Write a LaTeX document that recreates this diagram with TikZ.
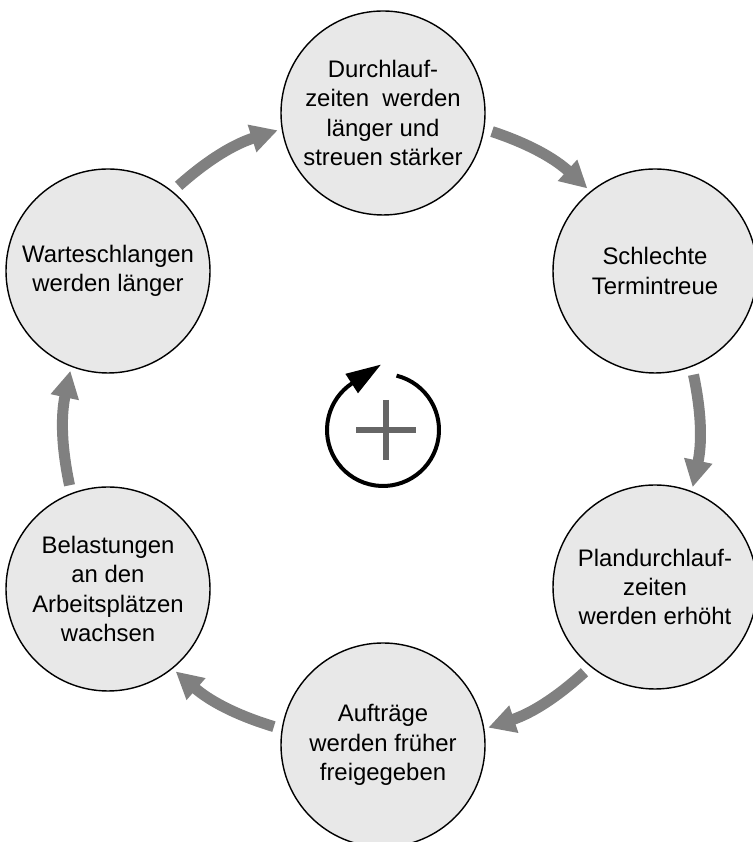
\documentclass[tikz,border=0pt]{standalone}
\usepackage{fontspec}
\setmainfont{Liberation Sans}
\usepackage{tikz}
\usetikzlibrary{arrows.meta}
\definecolor{circlegray}{RGB}{232,232,232}
\definecolor{flowgray}{RGB}{128,128,128}
\definecolor{plusgray}{RGB}{102,102,102}
\begin{document}
\begin{tikzpicture}[
  stage/.style={circle, draw=black, line width=0.8pt, fill=circlegray, minimum size=4.08cm,
                inner sep=0pt, align=center, font=\fontsize{13.6pt}{16.7pt}\selectfont},
  flow/.style={-{Triangle[length=0.54cm, width=0.54cm]}, line width=0.22cm, flowgray,
               shorten <=0.16cm, shorten >=0.08cm},
  loopline/.style={line width=0.08cm, -{Triangle[length=0.7cm, width=0.44cm]}},
  plusbar/.style={plusgray, line width=0.12cm},
]
  \useasboundingbox (0,0) rectangle (15.04,16.84);

  \node[stage] (dlz) at (7.66,14.58) {Durchlauf-\\zeiten\ \ werden\\länger und\\streuen stärker};
  \node[stage] (ttr) at (13.10,11.42) {Schlechte\\Termintreue};
  \node[stage] (pdz) at (13.10,5.10)  {Plandurchlauf-\\zeiten\\werden erhöht};
  \node[stage] (auf) at (7.66,1.94)   {Aufträge\\werden früher\\freigegeben};
  \node[stage] (bel) at (2.16,5.06)   {Belastungen\\an den\\Arbeitsplätzen\\wachsen};
  \node[stage] (wsl) at (2.16,11.42)  {Warteschlangen\\werden länger};

  \draw[flow] (wsl.51)  to[bend left=12] (dlz.189);
  \draw[flow] (dlz.351) to[bend left=12] (ttr.129);
  \draw[flow] (ttr.291) to[bend left=12] (pdz.69);
  \draw[flow] (pdz.231) to[bend left=12] (auf.9);
  \draw[flow] (auf.171) to[bend left=12] (bel.309);
  \draw[flow] (bel.111) to[bend left=12] (wsl.249);

  \coordinate (loop) at (7.66,8.24);
  \coordinate (plus) at (7.72,8.24);
  \draw[loopline] (loop) ++(76:1.12) arc[start angle=76, end angle=-236, radius=1.12] -- ++(33:0.7);
  \draw[plusbar] (plus) ++(-0.6,0) -- ++(1.2,0);
  \draw[plusbar] (plus) ++(0,0.6) -- ++(0,-1.2);
\end{tikzpicture}
\end{document}
